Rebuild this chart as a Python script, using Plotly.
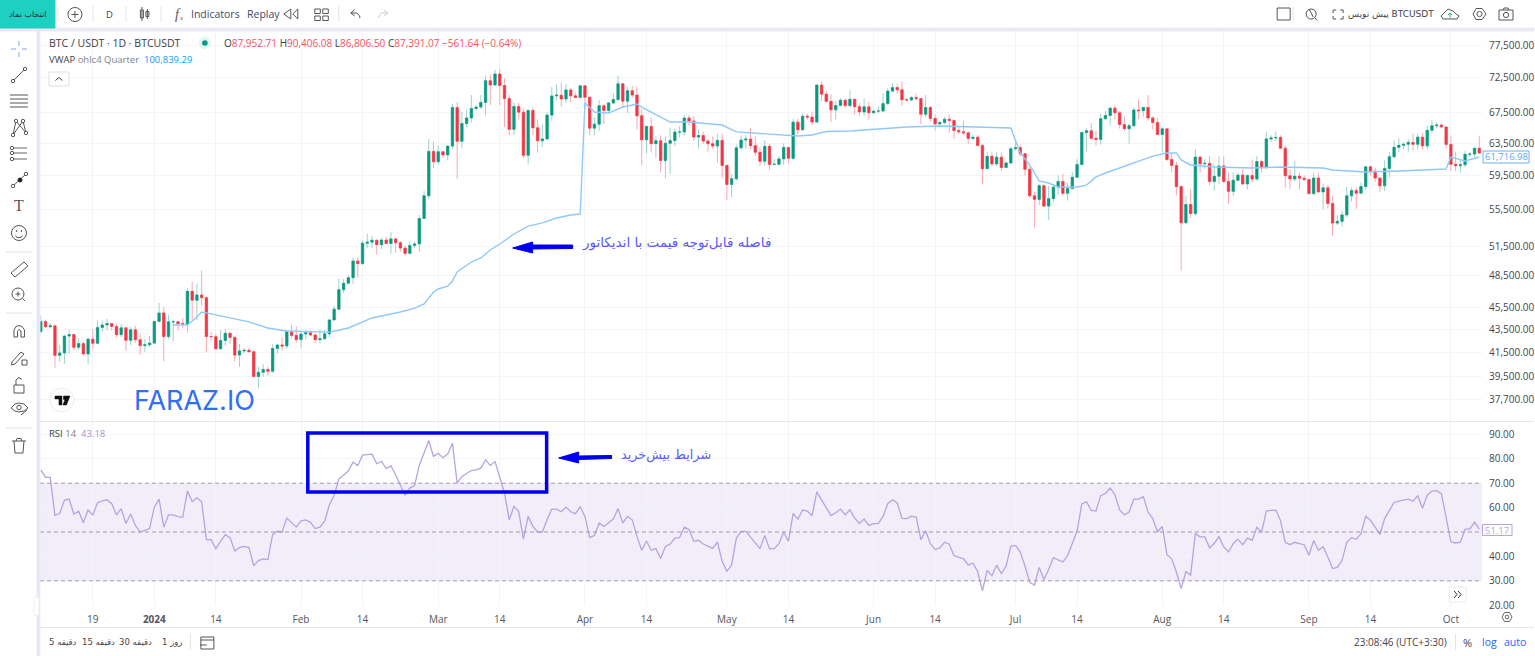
import math
import pandas as pd
import plotly.graph_objects as go
from plotly.subplots import make_subplots

W, H = 1535, 656
FIG_H = 662  # the photographed page comes out a little short, so the figure is drawn slightly taller

first_open = 43290
closes = [
    # Dec 2023 (from the 8th)
    44170, 43713, 43789, 41243, 41450, 42890, 43023, 41929, 42240, 41364, 42623, 42270,
    43652, 43869, 43997, 43739, 43016, 43613, 42520, 43442, 42581, 42066, 42140, 42283,
    # Jan
    44179, 44946, 42845, 44151, 44162, 43989, 43943, 46970, 46139, 46627, 46368, 42853,
    42842, 41796, 42511, 43137, 42776, 41262, 41618, 41665, 41545, 39507, 39845, 40077,
    39933, 41816, 42120, 42035, 43288, 42952, 42582,
    # Feb
    43075, 43185, 42989, 42577, 42658, 43084, 44319, 45300, 47132, 47751, 48293, 49958,
    49699, 51796, 51912, 52124, 51642, 52137, 51774, 52258, 51849, 51288, 50745, 51568,
    51728, 54476, 57037, 62432, 61130,
    # Mar
    62387, 61987, 63113, 68245, 63724, 66074, 66823, 68124, 68313, 68955, 72078, 71452,
    73072, 71388, 69499, 65300, 68393, 67609, 61937, 67840, 65501, 63796, 64037, 67211,
    69880, 69988, 69455, 70744, 69892, 69645, 71333,
    # Apr
    69702, 65446, 65980, 68508, 67837, 68896, 69360, 71620, 69146, 70631, 70006, 67116,
    63924, 65661, 63419, 63793, 61277, 63470, 63818, 64941, 64941, 66819, 66408, 64276,
    64481, 63755, 63419, 63113, 63841, 60672,
    # May
    58364, 59060, 62882, 63892, 64012, 63165, 62312, 61193, 63074, 60799, 60825, 61484,
    62936, 61553, 66256, 65231, 67051, 66940, 66278, 71446, 70136, 69122, 67929, 68526,
    69265, 68518, 69394, 68366, 67635, 68354, 67530,
    # Jun
    67760, 67773, 68805, 70567, 71082, 70757, 69342, 69310, 69648, 69508, 67321, 68243,
    66756, 66011, 66191, 66639, 66490, 65140, 64960, 64828, 64096, 64246, 63180, 60277,
    61806, 60864, 61706, 60427, 60986, 62772,
    # Jul
    62899, 62135, 60208, 57050, 56628, 58230, 55857, 56714, 58050, 58725, 57344, 57899,
    59231, 60787, 64870, 65097, 64118, 63974, 66709, 67163, 68165, 67532, 65936, 65372,
    65777, 67912, 67813, 68255, 66819, 66201, 64619,
    # Aug
    65357, 61415, 60680, 58116, 53991, 56034, 55027, 61710, 60880, 60945, 58719, 59354,
    60609, 58738, 57560, 58874, 59491, 58427, 59438, 59013, 61156, 60381, 64037, 64157,
    64220, 62834, 59415, 59034, 59359, 59119, 58973,
    # Sep
    57301, 59132, 57487, 57970, 56160, 53962, 54160, 54869, 57042, 57645, 57352, 58127,
    60498, 59993, 59132, 58213, 60309, 61759, 62947, 63201, 63348, 63578, 63339, 64262,
    63143, 65173, 65769, 65858, 65603, 63327,
    # Oct
    60805, 60649, 60754, 62067, 62089, 62819, 62224,
]
highs = [
    44700, 44358, 44041, 43808, 42104, 43000, 43420, 43087, 42700, 42429, 42767, 43500,
    44283, 44230, 44400, 44020, 44000, 43950, 43600, 43700, 43800, 43100, 42620, 42900,
    44184, 45879, 45500, 44770, 44350, 44200, 44500, 47250, 47900, 47700, 49000, 46500,
    43250, 43100, 43400, 43500, 43200, 42950, 42200, 41850, 41880, 41650, 40300, 40500,
    40300, 42200, 42200, 42800, 43350, 43880, 43750,
    43290, 43400, 43380, 43120, 43500, 43420, 44380, 45610, 48200, 48170, 48580, 50330,
    50350, 52050, 52820, 52580, 52150, 52350, 52480, 52980, 52370, 52040, 51550, 51990,
    52000, 54900, 57590, 64000, 63700,
    63180, 62450, 63230, 68750, 69000, 67640, 67990, 70000, 68600, 70000, 72800, 73000,
    73650, 73780, 72420, 70000, 68900, 68900, 68100, 68030, 68240, 66650, 65970, 67620,
    71150, 71560, 71770, 71600, 71000, 70350, 71350,
    71300, 69700, 66900, 69290, 68730, 69000, 70300, 72800, 71750, 71170, 71300, 71200,
    68000, 65840, 66880, 64380, 64500, 64300, 65500, 65400, 65700, 67250, 67200, 67080,
    65290, 65000, 64000, 64350, 64700, 64740,
    60780, 59600, 63320, 64500, 64500, 65500, 64400, 62990, 63840, 63420, 61450, 61820,
    63450, 63000, 66700, 66700, 67450, 67400, 67700, 71500, 71980, 70600, 70100, 69200,
    69550, 69500, 70700, 69590, 68900, 69500, 69000,
    67850, 68400, 70270, 71060, 71760, 71640, 71980, 69550, 69860, 70180, 69560, 70000,
    68450, 67300, 66400, 66950, 67300, 66080, 65700, 66480, 65050, 64500, 64530, 63370,
    62400, 62300, 62370, 62200, 61200, 63000,
    63850, 63300, 62250, 60500, 57500, 58450, 58370, 58200, 58300, 59450, 59650, 58600,
    59850, 61450, 65000, 65400, 66130, 65100, 67400, 67800, 68380, 68500, 67800, 67100,
    66100, 68200, 69400, 68300, 70000, 67050, 66800,
    65600, 65000, 62200, 61100, 58300, 57000, 57800, 62700, 61800, 61450, 61850, 60700,
    61800, 61800, 59800, 59850, 59700, 60250, 59600, 61400, 61850, 61400, 64950, 64500,
    65000, 64500, 63200, 60200, 61200, 59800, 59450,
    59000, 59800, 59800, 58500, 58300, 57000, 54850, 55300, 58100, 58000, 58000, 58600,
    60600, 60650, 60400, 59200, 61300, 62400, 63900, 64100, 63550, 64000, 64700, 64700,
    64800, 65800, 66500, 66250, 66100, 65650,
    64500, 62400, 61450, 62500, 62350, 63000, 64450,
]
lows = [
    43081, 43584, 43563, 40222, 40680, 40555, 41400, 41666, 41700, 41250, 40500, 41800,
    42180, 43300, 43400, 43400, 42760, 42800, 41630, 42100, 42300, 41300, 41520, 41960,
    42180, 44150, 40750, 42630, 42450, 43400, 43560, 43200, 44300, 44300, 45600, 41500,
    42430, 41720, 41700, 42050, 42200, 40700, 40280, 41450, 41500, 39450, 38550, 39480,
    39550, 39800, 41400, 41630, 41800, 42700, 42300,
    41880, 42600, 42900, 42250, 42250, 42550, 42770, 44300, 45250, 46800, 47750, 47700,
    48300, 49550, 51300, 51330, 50600, 51200, 51700, 50700, 50800, 50900, 50500, 50620,
    51280, 50900, 54450, 56700, 60350,
    60780, 61600, 61320, 62750, 59000, 62850, 65600, 66200, 67800, 68100, 67190, 68620,
    71330, 68550, 65600, 64500, 64550, 66600, 61550, 60800, 64530, 62260, 63000, 63800,
    66400, 69280, 68400, 68900, 69000, 69600, 69600,
    68060, 64500, 64500, 65090, 66000, 67450, 68750, 69250, 68210, 67500, 69560, 65250,
    60660, 62130, 62300, 61600, 59770, 59100, 59600, 63100, 64220, 64500, 65800, 63790,
    62790, 63400, 62400, 62770, 61000, 59100,
    56550, 56900, 58800, 62600, 62800, 62700, 61850, 60630, 60650, 60150, 60750, 60630,
    60750, 60900, 61300, 64630, 65130, 66600, 65850, 66080, 69160, 68850, 66300, 66600,
    68500, 68250, 68250, 67280, 67100, 67130, 66600,
    67400, 67450, 67620, 68560, 70400, 70150, 68500, 69200, 69120, 69200, 66000, 66900,
    66300, 65100, 65900, 66000, 64850, 64050, 64700, 64550, 63400, 63950, 63150, 58400,
    60250, 60560, 60630, 60000, 60400, 60800,
    62500, 61800, 59450, 56770, 53500, 56000, 55730, 54300, 56300, 57150, 57000, 56500,
    57750, 59200, 60650, 62400, 63900, 63200, 63300, 66600, 65800, 66600, 65400, 65100,
    63400, 65700, 66650, 67000, 66500, 65300, 64500,
    62300, 61200, 59850, 57100, 49000, 53950, 54550, 54700, 59800, 60250, 58300, 57650,
    58400, 58500, 56100, 57000, 58800, 58400, 57800, 58600, 58800, 59800, 60350, 63600,
    63800, 62800, 58000, 57850, 58700, 57750, 58730,
    57200, 57100, 57450, 55500, 55600, 52550, 53750, 53600, 54600, 56400, 55550, 57300,
    57700, 59450, 58700, 57500, 57600, 59200, 61600, 62350, 62750, 62400, 62600, 62700,
    62650, 62700, 64800, 65400, 65450, 62800,
    60000, 60000, 59800, 60450, 61700, 61700, 62100,
]
rsi_values = [
    75.5, 72.4, 72.4, 56.8, 57.6, 63, 63.5, 57.4, 58.5, 53.8, 59, 57, 62, 62.8, 63.2, 61.6,
    57, 59.6, 53.5, 57.4, 52.7, 50, 50.7, 51.4,
    60.2, 63.5, 52, 57, 57, 56.3, 56, 66.8, 62.4, 64, 62.4, 46.9, 46.9, 43.2, 46.2, 48.9,
    47.7, 42.2, 43.6, 44.1, 43.6, 36.2, 38.3, 39, 38.7, 48.9, 50.3, 50, 55.7, 54, 52,
    54.6, 55, 54, 51.4, 52, 54.4, 61.2, 65.1, 71.7, 73.5, 75, 78.6, 77.3, 81.5, 81.6, 81.9,
    78, 79, 76, 77.1, 73.5, 69.4, 65, 68, 69, 77.3, 82.3, 87.5, 81,
    82.3, 80.4, 82, 86.4, 70, 72.8, 73.9, 75.2, 75.5, 76.2, 79.6, 77.3, 78.9, 72.8, 66, 55,
    60.5, 58.5, 47.1, 56.4, 52.3, 50, 50, 55, 59.4, 59.4, 58.3, 60.2, 58.3, 57.5, 60.4,
    56.4, 47.7, 48.6, 53.7, 52.3, 54, 55.3, 59.6, 53.7, 56.4, 55, 48.2, 42.5, 46.3, 42.5,
    43.2, 39.1, 44.1, 45, 47.5, 47.7, 52, 51, 46.2, 46.6, 45.1, 44.1, 43.3, 45.9, 38,
    33.9, 36.5, 47.5, 50.3, 50.3, 48, 45.9, 43.2, 48.6, 43.2, 43.2, 45.2, 49.9, 46.2, 57.6,
    55.3, 59, 58.6, 56.7, 66.5, 63.2, 59.8, 56.7, 57.9, 59.4, 57.1, 59.1, 55.7, 53.5, 55.3,
    52.7,
    53.4, 53.4, 56.4, 61.6, 63.2, 61.9, 55.6, 55.5, 56.5, 56.1, 46.9, 50.5, 45.2, 42.8,
    43.5, 45.8, 45, 40.3, 39.6, 39.1, 36.5, 37.2, 33.8, 25.9, 34.3, 32.1, 36.4, 33, 36, 44.1,
    44.5, 41.8, 36, 29.4, 28.3, 35.5, 30.5, 34.6, 39.5, 38.7, 37.7, 40.3, 45.1, 50.3, 61.5,
    62.4, 58.9, 58.6, 64.9, 65.8, 68, 65.3, 59.1, 57, 58.2, 63.5, 63.5, 64.5, 58.2, 55.5, 50,
    52.3, 40.7, 39, 33.5, 26.8, 33.8, 32.4, 49.3, 48, 48, 43.5, 45.4, 48.1, 43.9, 41.8, 45.2,
    47.1, 44.8, 47.5, 46.6, 52, 49.9, 58.6, 58.9, 59, 54.6, 45.8, 44.8, 45.8, 45.2, 44.8,
    40.5, 46.5, 42.5, 44, 39.8, 35, 35.5, 38.4, 45.8, 47.7, 47, 49.3, 56.5, 54.8, 52, 49,
    55.5, 58.9, 62.1, 62.7, 63.1, 63.5, 62.6, 64.9, 59.7, 65.1, 66.8, 67, 65.7, 55,
    46, 45.5, 45.8, 51.2, 51.2, 54, 51.2,
]

vwap_dates = [
    "2024-01-05", "2024-01-08", "2024-01-10", "2024-01-11", "2024-01-13", "2024-01-17", "2024-01-21",
    "2024-01-25", "2024-01-29", "2024-02-07", "2024-02-11", "2024-02-16", "2024-02-22", "2024-02-25",
    "2024-02-27", "2024-02-29", "2024-03-01", "2024-03-03", "2024-03-04", "2024-03-05", "2024-03-08",
    "2024-03-10", "2024-03-12", "2024-03-14", "2024-03-16", "2024-03-17", "2024-03-20", "2024-03-23",
    "2024-03-26", "2024-03-29", "2024-03-31",
    "2024-04-01", "2024-04-03", "2024-04-06", "2024-04-09", "2024-04-12", "2024-04-13",
    "2024-04-19", "2024-04-23", "2024-04-30", "2024-05-03", "2024-05-10", "2024-05-16", "2024-05-19",
    "2024-05-22", "2024-05-27", "2024-06-03", "2024-06-08", "2024-06-15", "2024-06-24", "2024-06-30",
    "2024-07-02", "2024-07-04", "2024-07-06", "2024-07-08", "2024-07-10", "2024-07-14", "2024-07-16",
    "2024-07-18", "2024-07-20", "2024-07-26", "2024-07-30", "2024-08-02", "2024-08-04", "2024-08-05",
    "2024-08-07", "2024-08-12", "2024-08-20", "2024-08-26", "2024-09-04", "2024-09-06", "2024-09-13",
    "2024-09-20", "2024-09-30", "2024-10-01", "2024-10-04", "2024-10-07",
]
vwap_values = [
    43870, 43870, 44590, 45040, 44870, 44500, 44140, 43600, 43340, 43240, 43600, 44500, 45040, 45400,
    45780, 46910, 47200, 47480, 47970, 48860, 49860, 50270, 51090, 51720, 52460, 52780, 53640, 53980,
    54520, 54860, 54970,
    68880, 67640, 67500, 68320, 68740, 68320,
    66270, 66270, 65870, 64950, 64670, 64410, 64540, 65000, 65070, 65340, 65600, 65740, 65600, 65470,
    62230, 60730, 58780, 58540, 58070, 58070, 58300, 59270, 59750, 60980, 61840, 62230, 62230, 61350,
    60730, 60480, 60360, 60480, 60360, 60110, 59870, 59990, 60230, 61720, 61230, 61720,
]

price_ticks = [77500, 72500, 67500, 63500, 59500, 55500, 51500, 48500, 45500, 43500, 41500, 39500, 37700]
rsi_ticks = [20, 30, 40, 60, 70, 80, 90]
date_ticks = ["2023-12-19", "2024-01-01", "2024-01-14", "2024-02-01", "2024-02-14", "2024-03-01", "2024-03-14",
              "2024-04-01", "2024-04-14", "2024-05-01", "2024-05-14", "2024-06-01", "2024-06-14", "2024-07-01",
              "2024-07-14", "2024-08-01", "2024-08-14", "2024-09-01", "2024-09-14", "2024-10-01"]
date_labels = ["19", "<b>2024</b>", "14", "Feb", "14", "Mar", "14", "Apr", "14", "May", "14", "Jun", "14", "Jul",
               "14", "Aug", "14", "Sep", "14", "Oct"]

UP, DOWN = "#089981", "#f23645"
UP_WICK, DOWN_WICK = "#9cd3c8", "#f9a8b0"
VWAP_COL = "#90c8f8"
RSI_COL = "#b7a3e0"
GRID = "#f4f4f6"
INK = "#44444c"
BLUE = "#0000f0"
SANS = "Open Sans"
FA = "DejaVu Sans"

dates = pd.date_range("2023-12-08", periods=len(closes), freq="D")
opens = [first_open] + closes[:-1]
body_hi = [max(o, c) for o, c in zip(opens, closes)]
body_lo = [min(o, c) for o, c in zip(opens, closes)]


def X(x):
    return x / W


def Y(y):
    return 1 - y / H


fig = make_subplots(rows=2, cols=1, shared_xaxes=True)

# wicks first, then solid bodies on top so wicks can stay paler
fig.add_trace(go.Candlestick(
    x=dates, open=opens, high=highs, low=lows, close=closes,
    increasing=dict(line=dict(color=UP_WICK, width=1), fillcolor=UP_WICK),
    decreasing=dict(line=dict(color=DOWN_WICK, width=1), fillcolor=DOWN_WICK),
    whiskerwidth=0, showlegend=False), row=1, col=1)
fig.add_trace(go.Candlestick(
    x=dates, open=opens, high=body_hi, low=body_lo, close=closes,
    increasing=dict(line=dict(color=UP, width=0.5), fillcolor=UP),
    decreasing=dict(line=dict(color=DOWN, width=0.5), fillcolor=DOWN),
    whiskerwidth=0, showlegend=False), row=1, col=1)
fig.add_trace(go.Scatter(x=vwap_dates, y=vwap_values, mode="lines", showlegend=False,
                         line=dict(color=VWAP_COL, width=1.4)), row=1, col=1)
fig.add_trace(go.Scatter(x=dates, y=rsi_values, mode="lines", showlegend=False,
                         line=dict(color=RSI_COL, width=1.3)), row=2, col=1)

# RSI band
fig.add_hrect(y0=30, y1=70, fillcolor="rgba(126,87,194,0.1)", line_width=0, layer="below", row=2, col=1)
for level in [30, 50, 70]:
    fig.add_hline(y=level, line=dict(color="#a09aac", width=1, dash="4px,3px"), row=2, col=1)

shapes = []


def line(x0, y0, x1, y1, color="#444", width=1):
    shapes.append(dict(type="line", xref="paper", yref="paper", x0=X(x0), y0=Y(y0), x1=X(x1), y1=Y(y1),
                       line=dict(color=color, width=width)))


def rect(x0, y0, x1, y1, color="#444", width=1, fill="rgba(0,0,0,0)"):
    shapes.append(dict(type="rect", xref="paper", yref="paper", x0=X(x0), y0=Y(y0), x1=X(x1), y1=Y(y1),
                       line=dict(color=color, width=width), fillcolor=fill))


def circle(cx, cy, r, color="#444", width=1, fill="rgba(0,0,0,0)"):
    shapes.append(dict(type="circle", xref="paper", yref="paper", x0=X(cx - r), y0=Y(cy - r), x1=X(cx + r), y1=Y(cy + r),
                       line=dict(color=color, width=width), fillcolor=fill))


def poly(points, color="#444", width=1, fill="rgba(0,0,0,0)", closed=False):
    d = "M " + " L ".join(f"{X(a):.5f} {Y(b):.5f}" for a, b in points) + (" Z" if closed else "")
    shapes.append(dict(type="path", xref="paper", yref="paper", path=d,
                       line=dict(color=color, width=width), fillcolor=fill))


annots = []


def text(x, y, s, size=10, color=INK, anchor="left", family=SANS):
    annots.append(dict(xref="paper", yref="paper", x=X(x), y=Y(y), text=s, showarrow=False, xanchor=anchor,
                       yanchor="middle", font=dict(size=size, color=color, family=family), borderpad=0))


# frame
rect(0, 28, W, 31, color="#e9e9f4", fill="#e9e9f4")
rect(37, 31, 40, H, color="#e9e9f4", fill="#e9e9f4")
line(40, 421.5, W, 421.5, "#e6e6ea", 1)
line(40, 627.5, W, 627.5, "#e6e6ea", 1)

# top toolbar
rect(0, 0, 55, 28, color="#1fd0c2", fill="#1fd0c2")
text(27.5, 14, "انتخاب نماد", 8, "#16323a", "center", FA)
for sx in [58, 93, 126, 161, 339, 1294]:
    line(sx, 6, sx, 22, "#e6e6ea", 1)
circle(75, 14.5, 7, "#555", 1)
line(71.5, 14.5, 78.5, 14.5, "#555", 1)
line(75, 11, 75, 18, "#555", 1)
text(110, 14.5, "D", 9.5, INK, "center")
rect(140.5, 10, 143.5, 18, "#555", 1)
line(142, 7, 142, 21, "#555", 1)
rect(146, 11.5, 149, 16.5, "#555", 1)
line(147.5, 9, 147.5, 19, "#555", 1)
text(178, 14, "<i>f</i>", 14, "#555", "center", "Liberation Serif")
text(182.5, 18, "x", 6, "#555", "center")
text(190, 14.5, "Indicators", 10.5, "#3a4a6a")
text(246, 14.5, "Replay", 10.5, "#3a4a6a")
poly([(291, 9), (284, 14), (291, 19)], "#555", 1, closed=True)
poly([(298, 9), (293, 14), (298, 19)], "#555", 1, closed=True)
for gx, gy in [(315, 9), (323, 9), (315, 16), (323, 16)]:
    rect(gx, gy, gx + 5.5, gy + 4.5, "#555", 1)
poly([(351, 13), (355, 9.5)], "#555", 1)
poly([(351, 13), (355, 16), ], "#555", 1)
poly([(351, 13), (357, 13), (360, 16), (360, 18)], "#555", 1)
poly([(388, 13), (384, 9.5)], "#ccc", 1)
poly([(388, 13), (384, 16)], "#ccc", 1)
poly([(388, 13), (382, 13), (379, 16), (379, 18)], "#ccc", 1)
rect(1278, 8, 1291, 20, "#555", 1)
circle(1312, 14, 5, "#555", 1)
line(1316, 18, 1318, 20.5, "#555", 1)
line(1310, 9, 1314, 17, "#555", 1)
for cx, cy, dx, dy in [(1334, 10, 1, 1), (1344, 10, -1, 1), (1334, 19, 1, -1), (1344, 19, -1, -1)]:
    line(cx, cy, cx + 3 * dx, cy, "#555", 1)
    line(cx, cy, cx, cy + 3 * dy, "#555", 1)
text(1436, 14.5, "پیش نویس BTCUSDT", 9, INK, "right", FA)
poly([(1444, 19), (1442, 16), (1445, 13), (1449, 9), (1454, 11), (1457, 14), (1460, 16), (1458, 19)], "#555", 1, closed=True)
line(1451, 18, 1451, 13, "#3bb273", 1)
poly([(1449, 15), (1451, 13), (1453, 15)], "#3bb273", 1)
poly([(1474, 14), (1477, 8.5), (1483, 8.5), (1487, 14), (1483, 19.5), (1477, 19.5)], "#555", 1, closed=True)
circle(1480.5, 14, 2.6, "#555", 1)
rect(1500, 10, 1514, 20, "#555", 1)
line(1504, 10, 1505, 8, "#555", 1)
line(1509, 8, 1510, 10, "#555", 1)
line(1505, 8, 1509, 8, "#555", 1)
circle(1507, 15, 2.6, "#555", 1)

# left toolbar
line(11, 49, 16, 49, "#7ea3f0", 1)
line(22, 49, 27, 49, "#7ea3f0", 1)
line(19, 41, 19, 46, "#7ea3f0", 1)
line(19, 52, 19, 57, "#7ea3f0", 1)
line(13, 81, 25, 69, "#555", 1)
circle(13, 81, 1.7, "#555", 1, "white")
circle(25, 69, 1.7, "#555", 1, "white")
for fy in [95, 99, 103, 107]:
    line(10, fy, 28, fy, "#555", 1)
poly([(13, 135), (16, 121), (26, 133), (23, 121), (13, 135)], "#555", 1)
for px_, py_ in [(13, 135), (16, 121), (26, 133), (23, 121)]:
    circle(px_, py_, 1.7, "#555", 1, "white")
for fy in [148, 153, 159]:
    line(11, fy, 27, fy, "#666", 1)
    circle(12, fy, 1.7, "#555", 1, "white")
line(13, 186, 26, 174, "#555", 1)
circle(13, 186, 1.7, "#555", 1, "white")
circle(26, 174, 1.7, "#555", 1, "white")
circle(20, 180, 2, "#222", 1, "#222")
text(19, 206, "T", 16, "#555", "center", "Liberation Serif")
circle(19, 233, 7.5, "#555", 1)
circle(16.5, 231, 0.5, "#555", 1, "#555")
circle(21.5, 231, 0.5, "#555", 1, "#555")
poly([(15.5, 235.5), (17, 237.5), (21, 237.5), (22.5, 235.5)], "#555", 1)
for sy in [252, 313, 428]:
    line(6, sy, 32, sy, "#e2e2ea", 1)
poly([(11, 273), (24, 262), (28, 266), (15, 277)], "#555", 1, closed=True)
circle(18, 294, 6, "#555", 1)
line(22.5, 298.5, 25, 301, "#555", 1)
line(15.5, 294, 20.5, 294, "#555", 1)
line(18, 291.5, 18, 296.5, "#555", 1)
poly([(14, 337), (14, 330), (16, 326.5), (19, 325.5), (22, 326.5), (24.5, 330), (24.5, 337), (21, 337), (21, 331), (19, 329.5), (17.5, 331), (17.5, 337)],
     "#555", 1, closed=True)
poly([(12, 362), (21, 352), (24, 354), (15, 364), (11.5, 365)], "#555", 1, closed=True)
rect(22, 360, 27, 365, "#555", 1)
rect(14, 385, 24, 393, "#555", 1)
poly([(16, 385), (16, 380), (19, 377.5), (22, 379.5)], "#555", 1)
poly([(11, 408), (15, 404), (19, 403), (24, 404), (28, 408), (24, 411), (19, 412), (15, 411)], "#555", 1, closed=True)
circle(19, 407.5, 2.2, "#555", 1)
line(21, 415, 27, 410, "#555", 1)
poly([(14, 441), (15, 453), (23, 453), (24, 441)], "#555", 1)
line(12, 441, 26, 441, "#555", 1)
poly([(16, 441), (17, 438.5), (21, 438.5), (22, 441)], "#555", 1)

# legends
text(48, 43, "BTC / USDT · 1D · BTCUSDT", 10.5, "#3c3c44")
circle(205, 43, 6, "#e1f4ef", 0, "#e1f4ef")
circle(205, 43, 2.8, UP, 0, UP)
red = lambda s: f"<span style='color:#f7525f'>{s}</span>"
text(223, 43, "O" + red("87,952.71") + " H" + red("90,406.08") + " L" + red("86,806.50") + " C" + red("87,391.07")
     + " " + red("−561.64 (−0.64%)"), 10, "#3c3c44")
text(48, 60, "VWAP <span style='color:#80808a'>ohlc4 Quarter</span>  <span style='color:#2196f3'>100,839.29</span>", 9.5, "#3c3c44")
rect(49, 72, 69, 86, "#e0e0e4", 1, "white")
poly([(55.5, 80.5), (59, 77.5), (62.5, 80.5)], "#444", 1)
text(48, 433, "RSI <span style='color:#80808a'>14</span>  <span style='color:#a48fd8'>43.18</span>", 9.5, "#3c3c44")

# last value tags
rect(1484, 151, 1530, 163, "#6ab0f3", 1, "white")
text(1507, 157, "61,716.98", 9.5, "#5aa7f0", "center")
rect(1483.5, 524.5, 1513, 535.5, "#b7a3e0", 1, "white")
text(1498, 530, "51.17", 9.5, "#b7a3e0", "center")

# TV logo and watermark
circle(62, 400, 12, "#ececf0", 1, "white")
poly([(55, 396), (62, 396), (62, 405), (59, 405), (59, 399), (55, 399)], "#111", 0.5, "#111", closed=True)
poly([(63.5, 396), (70, 396), (66.5, 405), (63, 405), (65, 399.5), (63.5, 399.5)], "#111", 0.5, "#111", closed=True)
text(195, 400, "FARAZ.IO", 27, "#2f6ff0", "center", "Inter")

# hand-drawn notes
rect(308, 433, 547, 492, BLUE, 3.5)
poly([(513, 248), (533, 242), (533, 245), (573, 245), (573, 248.5), (533, 249), (533, 253)], BLUE, 1, BLUE, closed=True)
poly([(559, 458), (579, 452), (579, 456), (612, 455.5), (612, 458.5), (579, 459.5), (579, 463)], BLUE, 1, BLUE, closed=True)
text(677, 243, "فاصله قابل‌توجه قیمت با اندیکاتور", 13.5, "#5a5af5", "center", FA)
text(666, 455, "شرایط بیش‌خرید", 12.8, "#5a5af5", "center", FA)

# bottom bar
for bx, s in [(63, "5 دقیقه"), (99, "15 دقیقه"), (136, "30 دقیقه"), (172, "1 روز")]:
    text(bx, 642, s, 8.5, INK, "center", FA)
line(190.5, 634, 190.5, 650, "#e2e2e6", 1)
rect(201, 637, 214, 649, "#555", 1)
line(201, 640, 214, 640, "#555", 1)
line(200, 645, 207, 645, "#555", 1)
text(1401, 642, "23:08:46 (UTC+3:30)", 10, INK, "center")
line(1456.5, 634, 1456.5, 650, "#e2e2e6", 1)
text(1468, 642, "%", 11, INK, "center")
text(1490, 642, "log", 10.5, "#2962ff", "center")
text(1516, 642, "auto", 10.5, "#2962ff", "center")

# corner widgets
rect(1450, 587, 1467, 602, "#ececf0", 1, "white")
poly([(1455, 591), (1458, 594.5), (1455, 598)], "#333", 1)
poly([(1459, 591), (1462, 594.5), (1459, 598)], "#333", 1)
poly([(1503, 617), (1505.5, 612.5), (1510.5, 612.5), (1513, 617), (1510.5, 621.5), (1505.5, 621.5)], "#666", 1, closed=True)
circle(1508, 617, 1.8, "#666", 1)
rect(34, 597, 39, 615, "#eeeeF2", 1, "white")

# keep the toolbars and legends above the plot
for s in shapes:
    s["layer"] = "above"
fig.update_layout(shapes=list(fig.layout.shapes) + shapes, annotations=annots)

fig.update_layout(
    width=W, height=FIG_H, margin=dict(l=0, r=0, t=0, b=0), paper_bgcolor="white", plot_bgcolor="white",
    showlegend=False, boxgap=0.3, hovermode=False, font=dict(family=SANS, size=10, color=INK),
)
x_range = ["2023-12-07 20:00", "2024-10-07 14:00"]
fig.update_xaxes(range=x_range, domain=[40 / W, 1483 / W], tickmode="array", tickvals=date_ticks, ticktext=date_labels,
                 showgrid=True, gridcolor=GRID, gridwidth=1, zeroline=False, showline=False,
                 tickfont=dict(size=10, color="#55555c"), ticks="outside", ticklen=4, tickcolor="rgba(0,0,0,0)",
                 rangeslider_visible=False)
fig.update_xaxes(showticklabels=False, ticks="", row=1, col=1)
fig.update_yaxes(type="log", side="right", domain=[1 - 421 / H, 1 - 31 / H],
                 range=[math.log10(36090), math.log10(79740)], tickmode="array", tickvals=price_ticks,
                 ticktext=[f"{v:,.2f}" for v in price_ticks], showgrid=True, gridcolor=GRID, zeroline=False,
                 showline=False, tickfont=dict(size=10, color=INK), ticks="outside", ticklen=4,
                 tickcolor="rgba(0,0,0,0)", row=1, col=1)
fig.update_yaxes(side="right", domain=[1 - 606 / H, 1 - 422 / H], range=[19.67, 95.1], tickmode="array",
                 tickvals=rsi_ticks, ticktext=[f"{v:.2f}" for v in rsi_ticks], showgrid=True, gridcolor=GRID,
                 zeroline=False, showline=False, tickfont=dict(size=10, color=INK), ticks="outside", ticklen=4,
                 tickcolor="rgba(0,0,0,0)", row=2, col=1)

# the browser's default body margin would push the fixed-size figure off the page
fig.write_html("out.html", config={"displayModeBar": False},
               post_script="document.body.style.margin='0';document.body.style.overflow='hidden';")
